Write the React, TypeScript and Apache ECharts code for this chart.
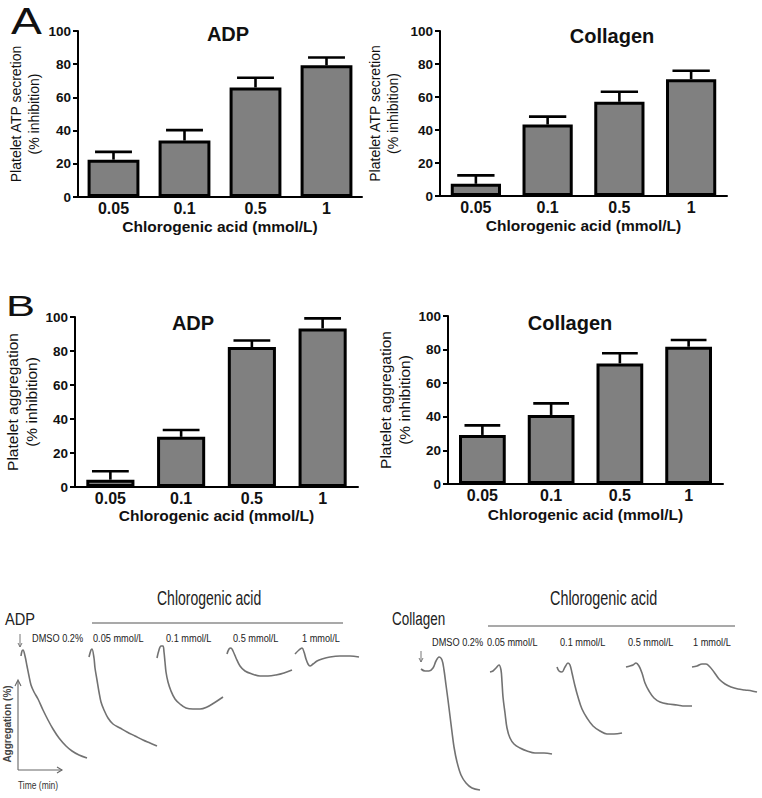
import React, { useEffect, useRef } from 'react';
import * as echarts from 'echarts';

const FONT = "'Liberation Sans', Arial, Helvetica, sans-serif";

// ---- Bar chart data (mean % inhibition and SEM) ----
const categories = ['0.05', '0.1', '0.5', '1'];
const adpSecretionMean = [22.5, 34, 66, 79.3];
const adpSecretionSem = [4.7, 6.3, 5.8, 4.7];
const collagenSecretionMean = [7.4, 43.3, 57.1, 70.8];
const collagenSecretionSem = [5.1, 4.8, 6.1, 5.1];
const adpAggregationMean = [4.3, 29.5, 82.3, 93.3];
const adpAggregationSem = [5.0, 4.0, 3.9, 5.9];
const collagenAggregationMean = [29.2, 41.1, 71.8, 81.7];
const collagenAggregationSem = [5.7, 6.9, 6.0, 4.0];
const yMin = 0;
const yMax = 100;
const yInterval = 20;

// ---- Aggregation traces (page frame) ----
const doseLabels = ['DMSO 0.2%', '0.05 mmol/L', '0.1 mmol/L', '0.5 mmol/L', '1 mmol/L'];
const adpTraces: number[][][] = [
  [[21,656],[22,651],[23,650],[25,656],[27,666],[29,676],[31,685],[34,692],[38,699],[43,710],[48,720],[53,729],[59,738],[66,746],[72,751],[79,755],[87,758]],
  [[89,657],[91,650],[92,649],[94,658],[95,668],[97,680],[99,692],[101,702],[104,710],[108,718],[113,724],[120,728],[127,732],[135,736],[143,740],[150,743],[157,746]],
  [[157,658],[159,650],[161,646],[163,646],[164,652],[165,662],[166,672],[168,682],[171,691],[175,699],[180,704],[186,708],[193,709],[200,709],[207,707],[214,703],[223,697]],
  [[227,654],[229,649],[231,648],[233,651],[236,658],[240,666],[245,671],[252,674],[260,676],[268,676],[276,675],[284,673],[292,670]],
  [[295,654],[299,650],[302,648],[304,652],[306,659],[308,664],[310,666],[313,664],[317,661],[322,659],[330,657],[340,656],[350,656],[359,657]],
];
const collagenTraces: number[][][] = [
  [[421,669],[425,671],[429,671],[433,668],[436,661],[439,657],[442,660],[444,670],[446,685],[448,700],[450,716],[452,732],[454,747],[457,762],[461,775],[466,783],[472,788],[480,790]],
  [[490,672],[493,671],[496,668],[499,665],[501,670],[502,682],[503,697],[505,713],[507,728],[510,738],[514,744],[520,748],[527,751],[535,753],[544,753],[552,754]],
  [[557,667],[559,671],[562,672],[565,667],[568,663],[570,665],[572,673],[575,686],[578,697],[582,709],[587,718],[593,726],[600,731],[607,734],[614,734],[622,733]],
  [[626,667],[630,666],[633,665],[636,663],[639,666],[642,673],[645,683],[649,691],[654,698],[660,702],[668,704],[677,705],[685,706],[692,706]],
  [[692,667],[697,666],[702,664],[706,664],[710,667],[714,672],[719,679],[725,684],[731,687],[738,689],[745,690],[752,691],[757,692]],
];

const panels = [
  { grid: { left: 78, top: 31, width: 284, height: 166 }, title: 'ADP', tx: 228, ty: 24,
    yName: 'Platelet ATP secretion\n(% inhibition)', nameGap: 35, nameSize: 14, nameLH: 18, xGap: 21, barWidth: '73%',
    mean: adpSecretionMean, sem: adpSecretionSem },
  { grid: { left: 440, top: 31, width: 287, height: 165 }, title: 'Collagen', tx: 612, ty: 26,
    yName: 'Platelet ATP secretion\n(% inhibition)', nameGap: 38, nameSize: 14, nameLH: 18, xGap: 21, barWidth: '70%',
    mean: collagenSecretionMean, sem: collagenSecretionSem },
  { grid: { left: 75, top: 317, width: 283, height: 170 }, title: 'ADP', tx: 193, ty: 313,
    yName: 'Platelet aggregation\n(% inhibition)', nameGap: 30, nameSize: 15.5, nameLH: 19.5, xGap: 20, barWidth: '68%',
    mean: adpAggregationMean, sem: adpAggregationSem },
  { grid: { left: 448, top: 316, width: 275, height: 168 }, title: 'Collagen', tx: 570, ty: 313,
    yName: 'Platelet aggregation\n(% inhibition)', nameGap: 30, nameSize: 15.5, nameLH: 19.5, xGap: 22, barWidth: '68%',
    mean: collagenAggregationMean, sem: collagenAggregationSem },
];

function txt(text: string, x: number, y: number, size: number, scaleX: number, opts: any = {}) {
  return {
    type: 'text', x, y, scaleX, rotation: opts.rotation || 0,
    style: {
      text, fontSize: size, fontFamily: FONT, fontWeight: opts.weight || 'normal',
      fill: opts.fill || '#222', align: opts.align || 'left', verticalAlign: 'middle',
    },
  };
}

function ln(x1: number, y1: number, x2: number, y2: number, w = 1, c = '#555') {
  return { type: 'line', shape: { x1, y1, x2, y2 }, style: { stroke: c, lineWidth: w } };
}

function poly(points: number[][], w = 1, c = '#555') {
  return { type: 'polyline', shape: { points }, style: { stroke: c, lineWidth: w, fill: 'none' } };
}

export default function App() {
  const ref = useRef<HTMLDivElement>(null);
  useEffect(() => {
    if (!ref.current) return;
    const chart = echarts.init(ref.current, null, { renderer: 'svg' });

    const grids: any[] = panels.map((p) => ({ ...p.grid, outerBoundsMode: 'none' }));
    grids.push({ left: 0, top: 0, width: 762, height: 798, outerBoundsMode: 'none' });

    const xAxes: any[] = panels.map((p, i) => ({
      type: 'category', gridIndex: i, data: categories,
      axisLine: { show: true, lineStyle: { color: '#000', width: 2 } },
      axisTick: { show: false },
      axisLabel: { color: '#111', fontSize: 16, fontWeight: 'bold', fontFamily: FONT, margin: 3 },
      name: 'Chlorogenic acid (mmol/L)', nameLocation: 'middle', nameGap: p.xGap,
      nameTextStyle: { color: '#111', fontSize: 15.5, fontWeight: 'bold', fontFamily: FONT },
    }));
    xAxes.push({ type: 'value', gridIndex: 4, min: 0, max: 762, show: false });

    const yAxes: any[] = panels.map((p, i) => ({
      type: 'value', gridIndex: i, min: yMin, max: yMax, interval: yInterval,
      axisLine: { show: true, lineStyle: { color: '#000', width: 2 } },
      axisTick: { show: true, length: 5, lineStyle: { color: '#000', width: 2 } },
      splitLine: { show: false },
      axisLabel: { color: '#111', fontSize: 13.5, fontWeight: 'bold', fontFamily: FONT, margin: 7 },
      name: p.yName, nameLocation: 'middle', nameRotate: 90, nameGap: p.nameGap,
      nameTextStyle: { color: '#111', fontSize: p.nameSize, fontFamily: FONT, lineHeight: p.nameLH },
    }));
    yAxes.push({ type: 'value', gridIndex: 4, min: 0, max: 798, inverse: true, show: false });

    const series: any[] = [];
    panels.forEach((p, i) => {
      series.push({
        type: 'bar', xAxisIndex: i, yAxisIndex: i, data: p.mean, barWidth: p.barWidth, z: 2,
        itemStyle: { color: '#808080', borderColor: '#000', borderWidth: 3 },
      });
      series.push({
        type: 'custom', xAxisIndex: i, yAxisIndex: i, z: 3,
        data: p.mean.map((m, k) => [k, m, m + p.sem[k]]),
        encode: { x: 0, y: [1, 2] },
        renderItem: (params: any, api: any) => {
          const k = api.value(0);
          const p0 = api.coord([k, api.value(1)]);
          const p1 = api.coord([k, api.value(2)]);
          const half = (api.size([1, 0])[0] * 0.52) / 2;
          return {
            type: 'group',
            children: [
              { type: 'line', shape: { x1: p0[0], y1: p0[1], x2: p1[0], y2: p1[1] }, style: { stroke: '#000', lineWidth: 2.6 } },
              { type: 'line', shape: { x1: p1[0] - half, y1: p1[1], x2: p1[0] + half, y2: p1[1] }, style: { stroke: '#000', lineWidth: 2.6 } },
            ],
          };
        },
      });
    });
    [...adpTraces, ...collagenTraces].forEach((tr) => {
      series.push({
        type: 'line', xAxisIndex: 4, yAxisIndex: 4, data: tr, showSymbol: false, smooth: 0.35,
        lineStyle: { color: '#727272', width: 1.6 },
      });
    });

    const titles = panels.map((p) => ({
      text: p.title, left: p.tx, top: p.ty, textAlign: 'center', padding: 0,
      textStyle: { fontSize: 20, fontWeight: 'bold', color: '#111', fontFamily: FONT },
    }));

    const leftDoseX = [32, 93, 166, 233, 302];
    const rightDoseX = [432, 487, 560, 628, 693];
    const graphics: any[] = [
      txt('A', 11, 21, 37, 1.25, { fill: '#111' }),
      txt('B', 6, 306, 30, 1.45, { fill: '#111' }),
      // left trace panel
      txt('Chlorogenic acid', 157, 598, 20, 0.7),
      ln(92, 623, 343, 623, 1.2),
      txt('ADP', 5, 619, 17, 0.86),
      ...doseLabels.map((d, i) => txt(d, leftDoseX[i], 638, 11.5, 0.8)),
      ln(20, 634, 20, 647, 1, '#777'),
      poly([[18, 643], [20, 647], [22, 643]], 1, '#777'),
      // inset axes
      ln(18, 770, 18, 681, 1.1, '#666'),
      poly([[15, 686], [18, 680], [21, 686]], 1.1, '#666'),
      ln(18, 770, 62, 770, 1.1, '#666'),
      poly([[57, 767], [62, 770], [57, 773]], 1.1, '#666'),
      txt('Aggregation (%)', 7, 724, 10, 1, { rotation: Math.PI / 2, align: 'center', weight: 'bold', fill: '#444' }),
      txt('Time (min)', 18, 785, 11, 0.77, { fill: '#333' }),
      // right trace panel
      txt('Chlorogenic acid', 550, 598, 20, 0.72),
      ln(488, 626, 735, 626, 1.2),
      txt('Collagen', 392, 618, 19, 0.71),
      ...doseLabels.map((d, i) => txt(d, rightDoseX[i], 642, 11.5, 0.8)),
      ln(421, 651, 421, 662, 1, '#777'),
      poly([[419, 658], [421, 662], [423, 658]], 1, '#777'),
    ];

    chart.setOption({
      animation: false,
      backgroundColor: '#ffffff',
      title: titles,
      grid: grids,
      xAxis: xAxes,
      yAxis: yAxes,
      series,
      graphic: graphics,
    });
    return () => chart.dispose();
  }, []);

  return <div ref={ref} style={{ position: 'absolute', left: 0, top: 0, width: 762, height: 798 }} />;
}
